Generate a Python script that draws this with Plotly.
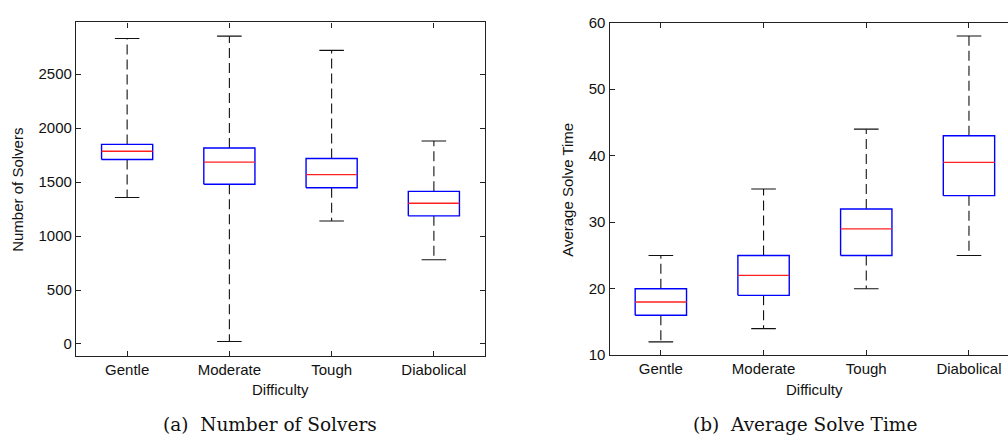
import plotly.graph_objects as go

categories = ["Gentle", "Moderate", "Tough", "Diabolical"]

# Number of Solvers (panel a)
solvers_lower = [1357, 23, 1140, 781]
solvers_q1 = [1709, 1480, 1447, 1187]
solvers_median = [1786, 1685, 1569, 1304]
solvers_q3 = [1849, 1816, 1718, 1414]
solvers_upper = [2830, 2852, 2720, 1881]

# Average Solve Time (panel b)
time_lower = [12, 14, 20, 25]
time_q1 = [16, 19, 25, 34]
time_median = [18, 22, 29, 39]
time_q3 = [20, 25, 32, 43]
time_upper = [25, 35, 44, 58]

solver_ticks = [0, 500, 1000, 1500, 2000, 2500]
time_ticks = [10, 20, 30, 40, 50, 60]

BOX_HALF = 0.25
CAP_HALF = 0.12

fig = go.Figure()


def add_boxes(lower, q1, med, q3, upper, xa, ya):
    for i in range(len(categories)):
        c = i + 1
        # whiskers (dashed), drawn from the box edge out to the cap
        fig.add_trace(go.Scatter(
            x=[c, c, None, c, c], y=[q3[i], upper[i], None, q1[i], lower[i]],
            mode="lines", line=dict(color="#111", width=1.1, dash="10px,5px"),
            xaxis=xa, yaxis=ya, hoverinfo="skip", showlegend=False))
        # caps
        fig.add_trace(go.Scatter(
            x=[c - CAP_HALF, c + CAP_HALF, None, c - CAP_HALF, c + CAP_HALF],
            y=[upper[i], upper[i], None, lower[i], lower[i]],
            mode="lines", line=dict(color="#111", width=1.1),
            xaxis=xa, yaxis=ya, hoverinfo="skip", showlegend=False))
        # box
        fig.add_trace(go.Scatter(
            x=[c - BOX_HALF, c + BOX_HALF, c + BOX_HALF, c - BOX_HALF, c - BOX_HALF],
            y=[q1[i], q1[i], q3[i], q3[i], q1[i]],
            mode="lines", line=dict(color="#0000ff", width=1.4),
            fill="toself", fillcolor="rgba(255,255,255,1)",
            xaxis=xa, yaxis=ya, hoverinfo="skip", showlegend=False))
        # median
        fig.add_trace(go.Scatter(
            x=[c - BOX_HALF, c + BOX_HALF], y=[med[i], med[i]],
            mode="lines", line=dict(color="#ff2020", width=1.4),
            xaxis=xa, yaxis=ya, hoverinfo="skip", showlegend=False))


add_boxes(solvers_lower, solvers_q1, solvers_median, solvers_q3, solvers_upper, "x", "y")
add_boxes(time_lower, time_q1, time_median, time_q3, time_upper, "x2", "y2")

tick_font = dict(family="Liberation Sans, Arial, sans-serif", size=15, color="#111")
axis_common = dict(showline=True, linecolor="#222", linewidth=1.2,
                   ticks="inside", ticklen=5, tickcolor="#222", tickwidth=1.1,
                   showgrid=False, zeroline=False, tickfont=tick_font)

fig.update_layout(
    width=1008, height=444,
    margin=dict(l=0, r=0, t=0, b=0),
    paper_bgcolor="white", plot_bgcolor="white",
    xaxis=dict(domain=[76 / 1008, 485 / 1008], range=[0.5, 4.5], mirror="ticks",
               tickvals=[1, 2, 3, 4], ticktext=categories, anchor="y", **axis_common),
    yaxis=dict(domain=[(444 - 361) / 444, (444 - 14) / 444], range=[-113, 2979], mirror="ticks",
               tickvals=solver_ticks, anchor="x", **axis_common),
    xaxis2=dict(domain=[609.5 / 1008, 1.0], range=[0.5, 4.38], mirror="ticks",
                tickvals=[1, 2, 3, 4], ticktext=categories, anchor="y2", **axis_common),
    yaxis2=dict(domain=[(444 - 360) / 444, (444 - 14.3) / 444], range=[10, 60], mirror=False,
                tickvals=time_ticks, anchor="x2", **axis_common),
)

label_font = dict(family="Liberation Sans, Arial, sans-serif", size=15, color="#111")
caption_font = dict(family="DejaVu Serif, Liberation Serif, serif", size=18.5, color="#111")

annotations = [
    dict(text="Number of Solvers", x=18 / 1008, y=(444 - 188) / 444, textangle=-90,
         font=label_font),
    dict(text="Difficulty", x=280 / 1008, y=(444 - 396) / 444, font=label_font),
    dict(text="Average Solve Time", x=568 / 1008, y=(444 - 188) / 444, textangle=-90,
         font=label_font),
    dict(text="Difficulty", x=814 / 1008, y=(444 - 396) / 444, font=label_font),
    dict(text="(a)  Number of Solvers", x=269.5 / 1008, y=(444 - 432) / 444, font=caption_font),
    dict(text="(b)  Average Solve Time", x=804.7 / 1008, y=(444 - 432) / 444, font=caption_font),
]
for a in annotations:
    a.update(xref="paper", yref="paper", showarrow=False, xanchor="center", yanchor="middle")
fig.update_layout(annotations=annotations)

fig.write_html("out.html")
